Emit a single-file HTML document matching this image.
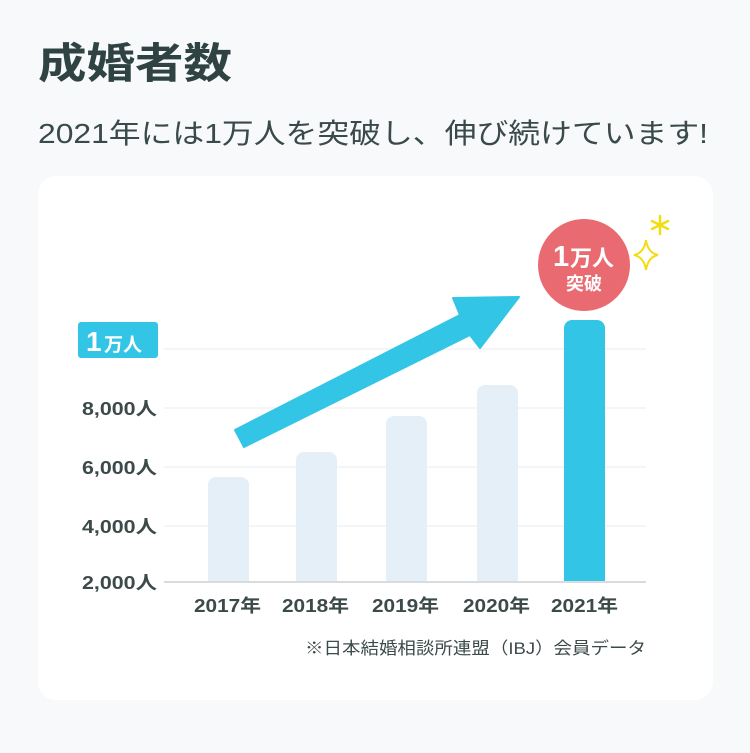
<!DOCTYPE html>
<html><head><meta charset="utf-8"><style>
html,body{margin:0;padding:0;background:#f7f9fa;}
body{width:750px;height:748px;overflow:hidden;}
</style></head><body>
<svg width="750" height="748" viewBox="0 0 750 748" xmlns="http://www.w3.org/2000/svg" style="font-family:'Liberation Sans','Noto Sans CJK JP',sans-serif">
<rect width="750" height="748" fill="#f7f9fa"/>
<text x="38" y="78" font-size="42" font-weight="bold" fill="#2f4343" textLength="194" lengthAdjust="spacingAndGlyphs">成婚者数</text>
<text x="38" y="143" font-size="28" fill="#3a4a4a" textLength="670" lengthAdjust="spacingAndGlyphs">2021年には1万人を突破し、伸び続けています!</text>
<rect x="38" y="176" width="675" height="524" rx="18" fill="#ffffff"/>
<g stroke="#f3f5f7" stroke-width="2">
<line x1="164" y1="349" x2="646" y2="349"/>
<line x1="164" y1="408" x2="646" y2="408"/>
<line x1="164" y1="467" x2="646" y2="467"/>
<line x1="164" y1="526" x2="646" y2="526"/>
</g>
<g fill="#e4eff8">
<path d="M208 582V485a8 8 0 0 1 8-8h25a8 8 0 0 1 8 8V582z"/>
<path d="M296 582V460a8 8 0 0 1 8-8h25a8 8 0 0 1 8 8V582z"/>
<path d="M386 582V424a8 8 0 0 1 8-8h25a8 8 0 0 1 8 8V582z"/>
<path d="M477 582V393a8 8 0 0 1 8-8h25a8 8 0 0 1 8 8V582z"/>
</g>
<path d="M564 582V328a8 8 0 0 1 8-8h25a8 8 0 0 1 8 8V582z" fill="#33c5e6"/>
<line x1="164" y1="582" x2="646" y2="582" stroke="#d8dcdf" stroke-width="2"/>
<polygon points="235,430 460,315 453,298 519,297 480,348 470,335 244,447" fill="#33c5e6" stroke="#33c5e6" stroke-width="2" stroke-linejoin="round"/>
<g font-size="18" font-weight="bold" fill="#3d4a4a">
<text x="82" y="415" textLength="75" lengthAdjust="spacingAndGlyphs">8,000人</text>
<text x="82" y="474" textLength="75" lengthAdjust="spacingAndGlyphs">6,000人</text>
<text x="82" y="533" textLength="75" lengthAdjust="spacingAndGlyphs">4,000人</text>
<text x="82" y="589" textLength="75" lengthAdjust="spacingAndGlyphs">2,000人</text>
</g>
<g font-size="18" font-weight="bold" fill="#3d4a4a">
<text x="194" y="612" textLength="67" lengthAdjust="spacingAndGlyphs">2017年</text>
<text x="282" y="612" textLength="67" lengthAdjust="spacingAndGlyphs">2018年</text>
<text x="372" y="612" textLength="67" lengthAdjust="spacingAndGlyphs">2019年</text>
<text x="463" y="612" textLength="67" lengthAdjust="spacingAndGlyphs">2020年</text>
<text x="551" y="612" textLength="67" lengthAdjust="spacingAndGlyphs">2021年</text>
</g>
<rect x="78" y="322" width="80" height="36" rx="3" fill="#33c5e6"/>
<text x="86" y="351" font-size="28" font-weight="bold" fill="#fff">1</text>
<text x="104" y="351" font-size="19" font-weight="bold" fill="#fff">万人</text>
<circle cx="584" cy="265" r="46" fill="#ea6a72"/>
<text x="553" y="266" font-size="29" font-weight="bold" fill="#fff">1</text>
<text x="570" y="266" font-size="22" font-weight="bold" fill="#fff">万人</text>
<text x="584" y="290" font-size="18" font-weight="bold" fill="#fff" text-anchor="middle">突破</text>
<path d="M646 240 Q648 253 658 255 Q648 257 646 270 Q644 257 634 255 Q644 253 646 240Z" fill="none" stroke="#f2dd10" stroke-width="2"/>
<g stroke="#f2dd10" stroke-width="2.5" stroke-linecap="round">
<line x1="660" y1="216" x2="660" y2="234"/><line x1="652" y1="221" x2="668" y2="229"/><line x1="652" y1="229" x2="668" y2="221"/>
</g>
<text x="305" y="654" font-size="17" fill="#3d4a4a" textLength="341" lengthAdjust="spacingAndGlyphs">※日本結婚相談所連盟（IBJ）会員データ</text>
</svg>
</body></html>
